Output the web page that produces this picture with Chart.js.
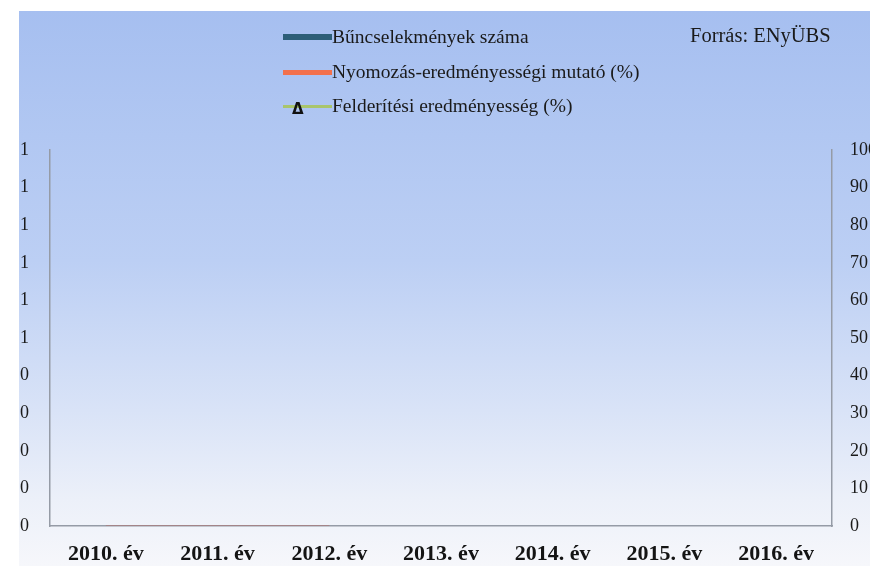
<!DOCTYPE html>
<html>
<head>
<meta charset="utf-8">
<script src="https://cdn.jsdelivr.net/npm/chart.js@4.4.1/dist/chart.umd.min.js"></script>
<style>
    body { margin: 0; background: #fff; }
    #wrap { position: relative; width: 870px; height: 568px; overflow: hidden; }
    #legend { position: absolute; left: 283px; top: 0; font-family: "Liberation Serif", serif; font-size: 19.5px; color: #1a1a1a; }
    .row { position: absolute; left: 0; height: 22px; line-height: 22px; white-space: nowrap; }
    .swatch { position: absolute; left: 0; top: 11px; width: 49px; }
    .row span.txt { position: absolute; left: 49px; top: 0; }
    .tri { position: absolute; left: 9px; top: 3px; font-size: 15px; font-weight: bold; color: #111; font-family: "DejaVu Sans", sans-serif; }
    #source { position: absolute; left: 690px; top: 24px; font-family: "Liberation Serif", serif; font-size: 20.5px; color: #1a1a1a; }
</style>
</head>
<body>
<div id="wrap">
    <canvas id="chart" width="870" height="568"></canvas>
    <div id="legend"></div>
    <div id="source">Forrás: ENyÜBS</div>
</div>
<script>
// --- DATA ---
const years = ['2010. év', '2011. év', '2012. év', '2013. év', '2014. év', '2015. év', '2016. év'];
const crimeCount = [0, 0, 0, 0, 0, 0, 0];
const investigationRate = [0, 0, 0, null, null, null, null];
const detectionRate = [null, null, null, null, null, null, null];
const leftRange = [0, 1, 0.1];      // min, max, step
const rightRange = [0, 100, 10];

const seriesNames = ['Bűncselekmények száma', 'Nyomozás-eredményességi mutató (%)', 'Felderítési eredményesség (%)'];
const seriesColors = ['#2d5e78', '#f2704c', '#a9c56c'];

// gradient background panel
const panelBg = {
    id: 'panelBg',
    beforeDraw(chart) {
        const c = chart.ctx;
        const g = c.createLinearGradient(0, 11, 0, 566);
        g.addColorStop(0, '#a6bff0');
        g.addColorStop(0.45, '#bccff4');
        g.addColorStop(0.72, '#d9e3f7');
        g.addColorStop(0.88, '#ecf0f9');
        g.addColorStop(1, '#f6f7fb');
        c.save();
        c.fillStyle = g;
        c.fillRect(19, 11, 851, 555);
        c.restore();
    }
};

const serif = "'Liberation Serif', serif";

const chart = new Chart(document.getElementById('chart'), {
    type: 'bar',
    data: {
        labels: years,
        datasets: [
            { type: 'bar', label: seriesNames[0], data: crimeCount, backgroundColor: seriesColors[0], yAxisID: 'y', order: 3 },
            { type: 'line', label: seriesNames[1], data: investigationRate, borderColor: 'rgba(190, 90, 80, 0.7)', borderWidth: 1,
              pointRadius: 0, yAxisID: 'y1', order: 1 },
            { type: 'line', label: seriesNames[2], data: detectionRate, borderColor: seriesColors[2], borderWidth: 3,
              pointStyle: 'triangle', pointRadius: 4, yAxisID: 'y1', order: 2 }
        ]
    },
    options: {
        responsive: false,
        animation: false,
        layout: { padding: { top: 150, left: 0, right: 0, bottom: 0 } },
        plugins: { legend: { display: false }, tooltip: { enabled: false } },
        scales: {
            x: {
                grid: { display: false, drawTicks: false },
                border: { color: '#959ba6', width: 1.5 },
                ticks: { color: '#141414', font: { family: serif, size: 22, weight: 'bold' }, padding: 15, maxRotation: 0 },
                afterFit: s => { s.height = 42; }
            },
            y: {
                position: 'left',
                min: leftRange[0], max: leftRange[1],
                grid: { display: false, drawTicks: false },
                border: { color: '#959ba6', width: 1.5 },
                ticks: { stepSize: leftRange[2], color: '#1a1a1a', font: { family: serif, size: 18 }, padding: 21,
                         callback: v => String(Math.round(v + 1e-9)) },
                afterFit: s => { s.width = 50; }
            },
            y1: {
                position: 'right',
                min: rightRange[0], max: rightRange[1],
                grid: { display: false, drawTicks: false },
                border: { color: '#959ba6', width: 1.5 },
                ticks: { stepSize: rightRange[2], color: '#1a1a1a', font: { family: serif, size: 18 }, padding: 18 },
                afterFit: s => { s.width = 38; }
            }
        }
    },
    plugins: [panelBg]
});

// legend built from the datasets
const legend = document.getElementById('legend');
const rowTops = [26, 61, 95];
const swatchH = [6, 5, 3];
chart.data.datasets.forEach((ds, i) => {
    const row = document.createElement('div');
    row.className = 'row';
    row.style.top = rowTops[i] + 'px';
    const sw = document.createElement('div');
    sw.className = 'swatch';
    sw.style.height = swatchH[i] + 'px';
    sw.style.marginTop = (-swatchH[i] / 2) + 'px';
    sw.style.background = seriesColors[i];
    row.appendChild(sw);
    if (i === 2) {
        const t = document.createElement('span');
        t.className = 'tri';
        t.textContent = '\u0394';
        row.appendChild(t);
    }
    const txt = document.createElement('span');
    txt.className = 'txt';
    txt.textContent = ds.label;
    row.appendChild(txt);
    legend.appendChild(row);
});
</script>
</body>
</html>
